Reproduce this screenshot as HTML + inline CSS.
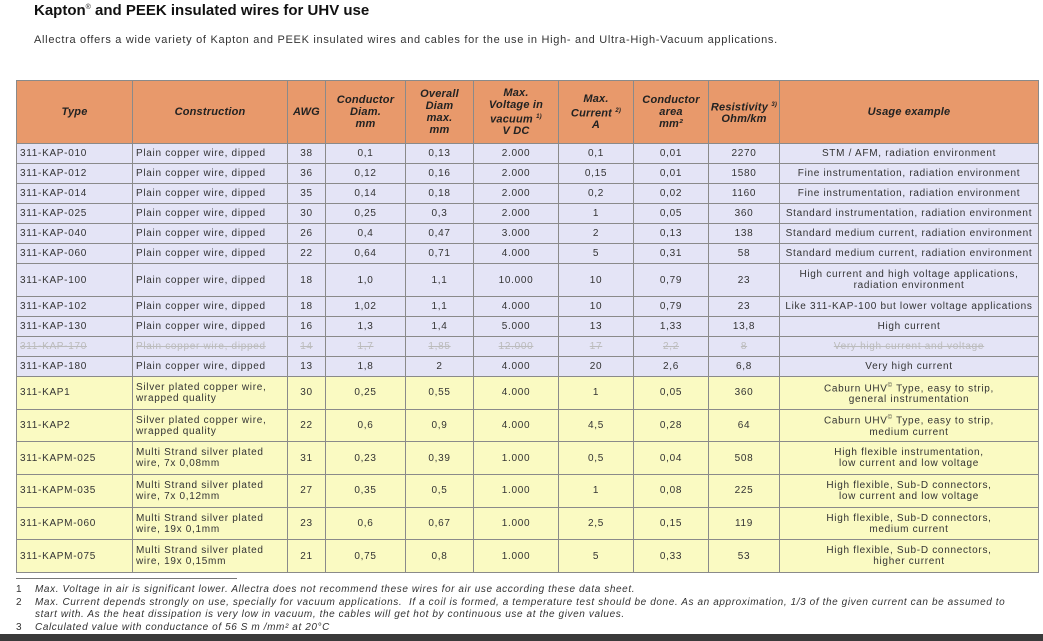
<!DOCTYPE html>
<html><head><meta charset="utf-8"><style>
body{margin:0;width:1043px;height:641px;background:#fff;position:relative;overflow:hidden;font-family:"Liberation Sans",sans-serif;color:#222}
h1{position:absolute;left:34px;top:2px;margin:0;font-size:15px;font-weight:bold;color:#111}
h1 sup{font-size:7px;font-weight:normal}
.sub{position:absolute;left:34px;top:34px;font-size:11px;color:#333;letter-spacing:0.7px}
table{position:absolute;left:16px;top:80px;border-collapse:collapse;table-layout:fixed;width:1022px}
td,th{border:1px solid #8a8a8a;font-size:10px;text-align:center;padding:0 1px;line-height:11px;color:#333;overflow:hidden;white-space:nowrap;letter-spacing:0.7px}
th{background:#E8996B;font-style:italic;font-weight:bold;font-size:11px;color:#222;height:62px;line-height:12px;letter-spacing:0.2px}
th sup{font-size:6px}
td.l{text-align:left;padding-left:3px}
tr.b td{background:#E4E4F6;height:19px}
tr.b2 td{background:#E4E4F6;height:32px}
tr.y td{background:#FAFAC2;height:31.7px}
tr.s td{color:#bbb;text-decoration:line-through}
.line{position:absolute;left:16px;top:578px;width:221px;border-top:1px solid #777}
.fn{position:absolute;left:16px;font-size:10px;font-style:italic;color:#333;line-height:12px;letter-spacing:0.6px;white-space:nowrap}
.fn span{display:inline-block;width:19px;font-style:normal;letter-spacing:0}
.bar{position:absolute;left:0;top:634px;width:1043px;height:7px;background:#3a3a3a}
</style></head><body>
<h1>Kapton<sup>®</sup> and PEEK insulated wires for UHV use</h1>
<div class="sub">Allectra offers a wide variety of Kapton and PEEK insulated wires and cables for the use in High- and Ultra-High-Vacuum applications.</div>
<table>
<colgroup><col style="width:116px"><col style="width:155px"><col style="width:38px"><col style="width:80px"><col style="width:68px"><col style="width:85px"><col style="width:75px"><col style="width:75px"><col style="width:71px"><col style="width:259px"></colgroup>
<tr><th>Type</th><th>Construction</th><th>AWG</th><th>Conductor<br>Diam.<br>mm</th><th>Overall<br>Diam<br>max.<br>mm</th><th>Max.<br>Voltage in<br>vacuum <sup>1)</sup><br>V DC</th><th>Max.<br>Current <sup>2)</sup><br>A</th><th>Conductor<br>area<br>mm²</th><th>Resistivity <sup>3)</sup><br>Ohm/km</th><th>Usage example</th></tr>
<tr class="b"><td class="l">311-KAP-010</td><td class="l">Plain copper wire, dipped</td><td>38</td><td>0,1</td><td>0,13</td><td>2.000</td><td>0,1</td><td>0,01</td><td>2270</td><td>STM / AFM, radiation environment</td></tr>
<tr class="b"><td class="l">311-KAP-012</td><td class="l">Plain copper wire, dipped</td><td>36</td><td>0,12</td><td>0,16</td><td>2.000</td><td>0,15</td><td>0,01</td><td>1580</td><td>Fine instrumentation, radiation environment</td></tr>
<tr class="b"><td class="l">311-KAP-014</td><td class="l">Plain copper wire, dipped</td><td>35</td><td>0,14</td><td>0,18</td><td>2.000</td><td>0,2</td><td>0,02</td><td>1160</td><td>Fine instrumentation, radiation environment</td></tr>
<tr class="b"><td class="l">311-KAP-025</td><td class="l">Plain copper wire, dipped</td><td>30</td><td>0,25</td><td>0,3</td><td>2.000</td><td>1</td><td>0,05</td><td>360</td><td>Standard instrumentation, radiation environment</td></tr>
<tr class="b"><td class="l">311-KAP-040</td><td class="l">Plain copper wire, dipped</td><td>26</td><td>0,4</td><td>0,47</td><td>3.000</td><td>2</td><td>0,13</td><td>138</td><td>Standard medium current, radiation environment</td></tr>
<tr class="b"><td class="l">311-KAP-060</td><td class="l">Plain copper wire, dipped</td><td>22</td><td>0,64</td><td>0,71</td><td>4.000</td><td>5</td><td>0,31</td><td>58</td><td>Standard medium current, radiation environment</td></tr>
<tr class="b2"><td class="l">311-KAP-100</td><td class="l">Plain copper wire, dipped</td><td>18</td><td>1,0</td><td>1,1</td><td>10.000</td><td>10</td><td>0,79</td><td>23</td><td>High current and high voltage applications,<br>radiation environment</td></tr>
<tr class="b"><td class="l">311-KAP-102</td><td class="l">Plain copper wire, dipped</td><td>18</td><td>1,02</td><td>1,1</td><td>4.000</td><td>10</td><td>0,79</td><td>23</td><td>Like 311-KAP-100 but lower voltage applications</td></tr>
<tr class="b"><td class="l">311-KAP-130</td><td class="l">Plain copper wire, dipped</td><td>16</td><td>1,3</td><td>1,4</td><td>5.000</td><td>13</td><td>1,33</td><td>13,8</td><td>High current</td></tr>
<tr class="b s"><td class="l">311-KAP-170</td><td class="l">Plain copper wire, dipped</td><td>14</td><td>1,7</td><td>1,85</td><td>12.000</td><td>17</td><td>2,2</td><td>8</td><td>Very high current and voltage</td></tr>
<tr class="b"><td class="l">311-KAP-180</td><td class="l">Plain copper wire, dipped</td><td>13</td><td>1,8</td><td>2</td><td>4.000</td><td>20</td><td>2,6</td><td>6,8</td><td>Very high current</td></tr>
<tr class="y"><td class="l">311-KAP1</td><td class="l">Silver plated copper wire,<br>wrapped quality</td><td>30</td><td>0,25</td><td>0,55</td><td>4.000</td><td>1</td><td>0,05</td><td>360</td><td>Caburn UHV<sup style="font-size:6px">©</sup> Type, easy to strip,<br>general instrumentation</td></tr>
<tr class="y"><td class="l">311-KAP2</td><td class="l">Silver plated copper wire,<br>wrapped quality</td><td>22</td><td>0,6</td><td>0,9</td><td>4.000</td><td>4,5</td><td>0,28</td><td>64</td><td>Caburn UHV<sup style="font-size:6px">©</sup> Type, easy to strip,<br>medium current</td></tr>
<tr class="y"><td class="l">311-KAPM-025</td><td class="l">Multi Strand silver plated<br>wire, 7x 0,08mm</td><td>31</td><td>0,23</td><td>0,39</td><td>1.000</td><td>0,5</td><td>0,04</td><td>508</td><td>High flexible instrumentation,<br>low current and low voltage</td></tr>
<tr class="y"><td class="l">311-KAPM-035</td><td class="l">Multi Strand silver plated<br>wire, 7x 0,12mm</td><td>27</td><td>0,35</td><td>0,5</td><td>1.000</td><td>1</td><td>0,08</td><td>225</td><td>High flexible, Sub-D connectors,<br>low current and low voltage</td></tr>
<tr class="y"><td class="l">311-KAPM-060</td><td class="l">Multi Strand silver plated<br>wire, 19x 0,1mm</td><td>23</td><td>0,6</td><td>0,67</td><td>1.000</td><td>2,5</td><td>0,15</td><td>119</td><td>High flexible, Sub-D connectors,<br>medium current</td></tr>
<tr class="y"><td class="l">311-KAPM-075</td><td class="l">Multi Strand silver plated<br>wire, 19x 0,15mm</td><td>21</td><td>0,75</td><td>0,8</td><td>1.000</td><td>5</td><td>0,33</td><td>53</td><td>High flexible, Sub-D connectors,<br>higher current</td></tr>
</table>
<div class="line"></div>
<div class="fn" style="top:584px"><span>1</span>Max. Voltage in air is significant lower. Allectra does not recommend these wires for air use according these data sheet.</div>
<div class="fn" style="top:597px"><span>2</span>Max. Current depends strongly on use, specially for vacuum applications.&nbsp; If a coil is formed, a temperature test should be done. As an approximation, 1/3 of the given current can be assumed to</div>
<div class="fn" style="top:609px"><span></span>start with. As the heat dissipation is very low in vacuum, the cables will get hot by continuous use at the given values.</div>
<div class="fn" style="top:622px"><span>3</span>Calculated value with conductance of 56 S m /mm² at 20°C</div>
<div class="bar"></div>
</body></html>
